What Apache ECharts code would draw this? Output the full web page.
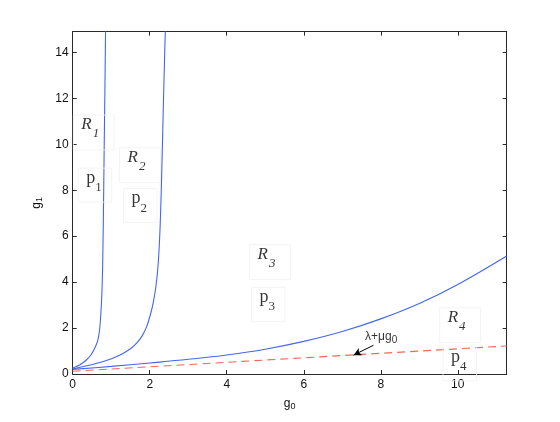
<!DOCTYPE html>
<html>
<head>
<meta charset="utf-8">
<script src="https://cdn.jsdelivr.net/npm/echarts@6/dist/echarts.min.js"></script>
<style>html,body{margin:0;padding:0;background:#fff;}#c{width:560px;height:422px;}</style>
</head>
<body>
<div id="c"></div>
<script>
// Boundary curves: [g0, g1]
var curve1 = [[0,0.25],[0.19,0.4],[0.36,0.62],[0.48,0.85],[0.58,1.15],[0.65,1.45],[0.7,1.95],[0.73,2.6],[0.755,3.4],[0.775,4.5],[0.795,6.6],[0.815,9.5],[0.835,12.2],[0.855,15.2]];
var curve2 = [[0,0.22],[0.4,0.37],[0.8,0.54],[1.23,0.83],[1.5,1.1],[1.66,1.34],[1.8,1.65],[1.92,2.06],[2.02,2.6],[2.09,3.1],[2.16,3.8],[2.22,4.8],[2.27,6.4],[2.31,8.6],[2.35,11.4],[2.38,13.4],[2.41,15.2]];
var curve3 = [[0,0.2],[1,0.33],[2,0.48],[3,0.64],[4,0.83],[5,1.08],[6,1.42],[7,1.85],[8,2.4],[9,3.07],[10,3.9],[11.27,5.14]];
var lineLambda = [[0,0.12],[11.27,1.22]];
var xTicks = [0,2,4,6,8,10];
var yTicks = [0,2,4,6,8,10,12,14];
// Region labels (text, subscript, box centre in data units)
var regionLabels = [
  {name:'R', sub:'1', kind:'R', at:[0.548,10.51]},
  {name:'p', sub:'1', kind:'p', at:[0.579,8.22]},
  {name:'R', sub:'2', kind:'R', at:[1.748,9.09]},
  {name:'p', sub:'2', kind:'p', at:[1.756,7.33]},
  {name:'R', sub:'3', kind:'R', at:[5.125,4.87]},
  {name:'p', sub:'3', kind:'p', at:[5.08,3.03]},
  {name:'R', sub:'4', kind:'R', at:[10.06,2.12]},
  {name:'p', sub:'4', kind:'p', at:[10.05,0.445]}
];
var arrowFrom = [7.81,1.25];
var arrowTo = [7.29,0.82];
var arrowText = [8.01,1.58];

var xMin = 0, xMax = 11.27, yMin = 0, yMax = 14.9;

var chart = echarts.init(document.getElementById('c'), null, {renderer:'canvas'});
var axisCol = '#2a2a2a';
var serif = '"Liberation Serif","DejaVu Serif",serif';
var sans = '"Liberation Sans","DejaVu Sans",sans-serif';

function baseAxis(extra){
  return Object.assign({
    type:'value', interval:2,
    axisLine:{show:true, onZero:false, lineStyle:{color:axisCol, width:1}},
    axisTick:{show:true, inside:true, length:4, lineStyle:{color:axisCol}},
    splitLine:{show:false},
  }, extra);
}

var labelData = regionLabels.map(function(l){
  return {
    value: l.at,
    label: {
      formatter: l.kind === 'R' ? '{R|' + l.name + '}{Rs|' + l.sub + '}' : '{p|' + l.name + '}{ps|' + l.sub + '}',
      padding: l.kind === 'R' ? [1,15,10,8] : [1,10,8,8]
    }
  };
});

chart.setOption({
  animation:false,
  backgroundColor:'#ffffff',
  grid:{left:72.7, right:53.3, top:31.7, bottom:48, containLabel:false},
  xAxis:[
    baseAxis({min:xMin, max:xMax, position:'bottom',
      axisLabel:{show:true, color:'#111', fontFamily:sans, fontSize:12, margin:5, showMaxLabel:false,
        formatter:function(v){ return xTicks.indexOf(v) >= 0 ? String(v) : ''; }},
      name:'{a|g}{b|0}', nameLocation:'middle', nameGap:22,
      nameTextStyle:{rich:{a:{fontFamily:sans, fontSize:12, color:'#111'}, b:{fontFamily:sans, fontSize:9, color:'#111', padding:[6,0,0,0]}}}
    }),
    baseAxis({min:xMin, max:xMax, position:'top', axisLabel:{show:false}})
  ],
  yAxis:[
    baseAxis({min:yMin, max:yMax, position:'left',
      axisLabel:{show:true, color:'#111', fontFamily:sans, fontSize:12, margin:4, showMaxLabel:false,
        formatter:function(v){ return yTicks.indexOf(v) >= 0 ? String(v) : ''; }},
      name:'{a|g}{b|1}', nameLocation:'middle', nameGap:28,
      nameTextStyle:{rich:{a:{fontFamily:sans, fontSize:12, color:'#111'}, b:{fontFamily:sans, fontSize:9, color:'#111', padding:[6,0,0,0]}}}
    }),
    baseAxis({min:yMin, max:yMax, position:'right', axisLabel:{show:false}})
  ],
  series:[
    {type:'line', data:curve1, showSymbol:false, smooth:0.25, clip:true,
      lineStyle:{color:'#4466ee', width:1.1}},
    {type:'line', data:curve2, showSymbol:false, smooth:0.25, clip:true,
      lineStyle:{color:'#4466ee', width:1.1}},
    {type:'line', data:curve3, showSymbol:false, smooth:0.4, clip:true,
      lineStyle:{color:'#4466ee', width:1.1}},
    {type:'line', data:lineLambda, showSymbol:false, clip:true,
      lineStyle:{color:'#f06a55', width:1.1, type:[8,5]},
      markLine:{silent:true, symbol:['none','arrow'], symbolSize:[6,8], label:{show:false},
        lineStyle:{color:'#000', width:1, type:'solid'},
        data:[[{coord:arrowFrom},{coord:arrowTo}]]}
    },
    {type:'scatter', data:labelData, symbolSize:1, itemStyle:{color:'rgba(0,0,0,0)'}, silent:true, z:5,
      label:{show:true, position:'inside', color:'#000', borderColor:'#f1f1f1', borderWidth:1,
        rich:{
          R:{fontFamily:serif, fontStyle:'italic', fontSize:17, color:'#000', verticalAlign:'bottom', padding:[0,0,7,0]},
          Rs:{fontFamily:serif, fontStyle:'italic', fontSize:13, color:'#000', verticalAlign:'bottom', padding:[0,0,0,1]},
          p:{fontFamily:serif, fontSize:18, color:'#000', verticalAlign:'bottom', padding:[0,0,7,0]},
          ps:{fontFamily:serif, fontSize:13, color:'#000', verticalAlign:'bottom'}
        }}
    },
    {type:'scatter', data:[arrowText], symbolSize:1, itemStyle:{color:'rgba(0,0,0,0)'}, silent:true, z:5,
      label:{show:true, position:'inside', formatter:'{a|\u03bb+\u03bcg}{b|0}',
        rich:{a:{fontFamily:sans, fontSize:12, color:'#000', verticalAlign:'bottom', padding:[0,0,3,0]},
              b:{fontFamily:sans, fontSize:10, color:'#000', verticalAlign:'bottom'}}}
    }
  ]
});
</script>
</body>
</html>
